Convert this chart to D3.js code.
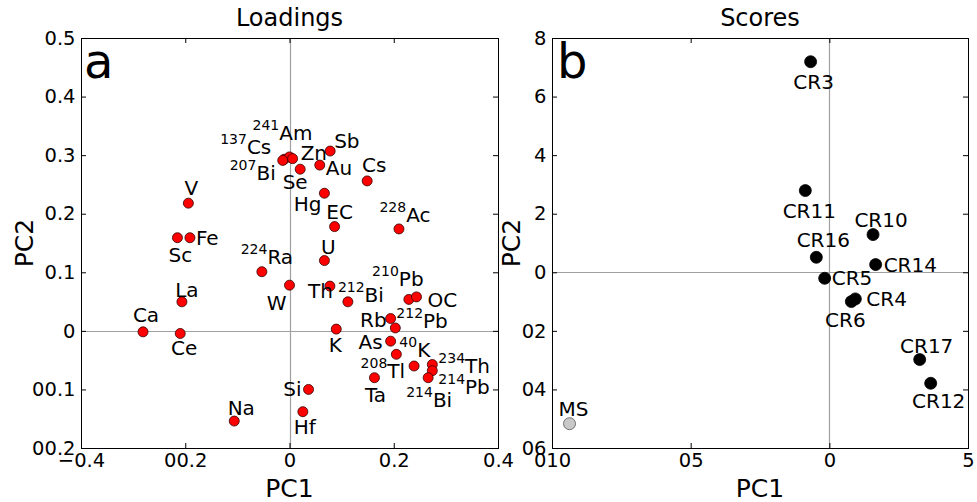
<!DOCTYPE html>
<html>
<head>
<meta charset="utf-8">
<script src="https://cdnjs.cloudflare.com/ajax/libs/d3/7.8.5/d3.min.js"></script>
<style>
    body { margin: 0; background: #fff; }
    svg text { font-family: "DejaVu Sans", sans-serif; }
</style>
</head>
<body>
<div id="chart"></div>
<script>
// ---- panel a: loadings ----
var loadNames = ["V", "Sc", "Fe", "Cs", "Am", "Bi", "Zn", "Sb", "Se", "Au", "Cs", "Hg", "EC", "Ac", "U", "Ra",
    "W", "Th", "Bi", "Pb", "OC", "Rb", "Pb", "K", "As", "K", "Tl", "Th", "Pb", "Bi", "Ta", "Si", "Hf", "Na",
    "Ca", "Ce", "La"];
var loadSup = ["", "", "", "137", "241", "207", "", "", "", "", "", "", "", "228", "", "224",
    "", "", "212", "210", "", "", "212", "", "", "40", "208", "234", "214", "214", "", "", "", "",
    "", "", ""];
var loadPC1 = [-0.194, -0.215, -0.191, -0.010, 0.000, -0.013, 0.006, 0.078, 0.0205, 0.058, 0.149, 0.067, 0.0865, 0.210, 0.067, -0.053,
    0.000, 0.0775, 0.112, 0.229, 0.2436, 0.194, 0.203, 0.0897, 0.194, 0.205, 0.239, 0.274, 0.274, 0.266, 0.163, 0.0365, 0.0256, -0.106,
    -0.281, -0.2096, -0.2064];
var loadPC2 = [0.218, 0.159, 0.159, 0.293, 0.297, 0.291, 0.294, 0.307, 0.276, 0.283, 0.256, 0.235, 0.178, 0.174, 0.120, 0.101,
    0.078, 0.0764, 0.0496, 0.0537, 0.058, 0.021, 0.005, 0.003, -0.0176, -0.040, -0.060, -0.0575, -0.068, -0.080, -0.080, -0.100, -0.138, -0.154,
    -0.0017, -0.0045, 0.0496];
// label placement next to each point: [anchor, dx, dy]
var loadLabelAt = [["middle", 3, -8], ["middle", 3, 24], ["start", 6, 7], ["end", -13, -5], ["middle", -7, -17],
    ["end", -7, 20], ["start", 8, 1], ["start", 4, -3], ["middle", -5, 20], ["start", 6, 10], ["middle", 7, -9],
    ["end", -3, 18], ["middle", 5, -8], ["middle", 6, -7], ["middle", 4, -7], ["middle", 5, -8],
    ["end", -3, 25], ["end", 3, 12], ["start", -10, 0], ["middle", -11, -13], ["start", 11, 10], ["end", -4, 8],
    ["start", 1, 0], ["middle", -1, 23], ["end", -8, 8], ["start", 3, 3], ["end", -9, 12], ["start", 6, 8],
    ["start", 6, 23], ["middle", 1, 29], ["middle", 1, 24], ["end", -7, 7], ["middle", 2, 22], ["middle", 7, -6],
    ["middle", 3, -10], ["middle", 4, 22], ["middle", 5, -5]];

var loadXTicks = [-0.4, -0.2, 0, 0.2, 0.4];
var loadXTickLabels = ["\u22120.4", "00.2", "0", "0.2", "0.4"];
var loadYTicks = [0.5, 0.4, 0.3, 0.2, 0.1, 0, -0.1, -0.2];
var loadYTickLabels = ["0.5", "0.4", "0.3", "0.2", "0.1", "0", "00.1", "00.2"];

// ---- panel b: scores ----
var scoreNames = ["CR3", "CR11", "CR10", "CR16", "CR14", "CR5", "CR4", "CR6", "CR17", "CR12", "MS"];
var scorePC1 = [-0.675, -0.866, 1.576, -0.469, 1.67, -0.168, 0.938, 0.794, 3.258, 3.655, -9.368];
var scorePC2 = [7.19, 2.79, 1.287, 0.512, 0.263, -0.205, -0.91, -1.0, -2.98, -3.79, -5.17];
var scoreLabelAt = [["middle", 3, 27], ["middle", 4, 27], ["middle", 8, -8], ["middle", 7, -10], ["start", 8, 7],
    ["start", 7, 7], ["start", 11, 7], ["middle", -6, 25], ["middle", 7, -7], ["middle", 8, 25], ["middle", 4, -8]];

var scoreXTicks = [-10, -5, 0, 5];
var scoreXTickLabels = ["010", "05", "0", "5"];
var scoreYTicks = [8, 6, 4, 2, 0, -2, -4, -6];
var scoreYTickLabels = ["8", "6", "4", "2", "0", "02", "04", "06"];


var width = 977;
var height = 502;

var svg = d3.select("#chart")
    .append("svg")
    .attr("width", width)
    .attr("height", height);

svg.append("rect")
    .attr("width", width)
    .attr("height", height)
    .attr("fill", "#fff");

function addLabel(g, x, y, anchor, sup, name, size) {
    var t = g.append("text")
        .attr("x", x)
        .attr("y", y)
        .attr("text-anchor", anchor)
        .attr("font-size", size)
        .attr("fill", "#000");
    if (sup) {
        t.append("tspan").attr("font-size", 14).attr("dy", -10).text(sup);
        t.append("tspan").attr("dy", 10).text(name);
    } else {
        t.text(name);
    }
}

function drawPanel(p) {
    var x = d3.scaleLinear().domain(p.xDomain).range([p.left, p.right]);
    var y = d3.scaleLinear().domain(p.yDomain).range([p.bottom, p.top]);
    var g = svg.append("g");

    // zero lines
    g.append("line")
        .attr("x1", Math.round(x(0)) + 0.5).attr("x2", Math.round(x(0)) + 0.5)
        .attr("y1", p.top).attr("y2", p.bottom)
        .attr("stroke", "#a0a0a0").attr("stroke-width", 1.2);
    g.append("line")
        .attr("x1", p.left).attr("x2", p.right)
        .attr("y1", Math.round(y(0)) + 0.5).attr("y2", Math.round(y(0)) + 0.5)
        .attr("stroke", "#a0a0a0").attr("stroke-width", 1.2);

    // axes, ticks pointing inwards on all four sides
    var bottom = g.append("g")
        .attr("transform", "translate(0," + p.bottom + ")")
        .call(d3.axisBottom(x).tickValues(p.xTicks)
            .tickFormat(function(d, i) { return p.xTickLabels[i]; })
            .tickSizeInner(-5).tickSizeOuter(0).tickPadding(5));
    var left = g.append("g")
        .attr("transform", "translate(" + p.left + ",0)")
        .call(d3.axisLeft(y).tickValues(p.yTicks)
            .tickFormat(function(d, i) { return p.yTickLabels[i]; })
            .tickSizeInner(-5).tickSizeOuter(0).tickPadding(5.5));
    var top = g.append("g")
        .attr("transform", "translate(0," + p.top + ")")
        .call(d3.axisTop(x).tickValues(p.xTicks).tickFormat("")
            .tickSizeInner(-5).tickSizeOuter(0));
    var right = g.append("g")
        .attr("transform", "translate(" + p.right + ",0)")
        .call(d3.axisRight(y).tickValues(p.yTicks).tickFormat("")
            .tickSizeInner(-5).tickSizeOuter(0));

    [bottom, left, top, right].forEach(function(a) {
        a.select(".domain").remove();
        a.attr("font-family", null).attr("font-size", 19.5);
        a.selectAll("line").attr("stroke", "#000");
        a.selectAll("text").attr("fill", "#000");
    });

    // frame
    g.append("rect")
        .attr("x", p.left + 0.5)
        .attr("y", p.top + 0.5)
        .attr("width", p.right - p.left)
        .attr("height", p.bottom - p.top)
        .attr("fill", "none")
        .attr("stroke", "#000")
        .attr("stroke-width", 1);

    // points
    g.selectAll("circle.pt")
        .data(p.pc1)
        .enter()
        .append("circle")
        .attr("class", "pt")
        .attr("cx", function(d) { return x(d); })
        .attr("cy", function(d, i) { return y(p.pc2[i]); })
        .attr("r", p.radius)
        .attr("fill", function(d, i) { return p.fill(i); })
        .attr("stroke", function(d, i) { return p.stroke(i); })
        .attr("stroke-width", 0.8);

    // point labels
    for (var i = 0; i < p.names.length; i++) {
        var at = p.labelAt[i];
        addLabel(g, x(p.pc1[i]) + at[1], y(p.pc2[i]) + at[2], at[0], p.sup ? p.sup[i] : "", p.names[i], 20);
    }

    // title, axis labels, panel letter
    g.append("text")
        .attr("x", (p.left + p.right) / 2).attr("y", 26)
        .attr("text-anchor", "middle").attr("font-size", 24)
        .text(p.title);
    g.append("text")
        .attr("x", (p.left + p.right) / 2).attr("y", 497)
        .attr("text-anchor", "middle").attr("font-size", 25)
        .text("PC1");
    g.append("text")
        .attr("transform", "translate(" + p.yLabelX + "," + ((p.top + p.bottom) / 2) + ") rotate(-90)")
        .attr("text-anchor", "middle").attr("font-size", 25)
        .text("PC2");
    g.append("text")
        .attr("x", p.left + p.letterDx).attr("y", 78)
        .attr("font-size", 48)
        .text(p.letter);
}

drawPanel({
    left: 81, right: 498, top: 38, bottom: 448,
    xDomain: [-0.4, 0.4], yDomain: [-0.2, 0.5],
    xTicks: loadXTicks, xTickLabels: loadXTickLabels,
    yTicks: loadYTicks, yTickLabels: loadYTickLabels,
    pc1: loadPC1, pc2: loadPC2, names: loadNames, sup: loadSup, labelAt: loadLabelAt,
    radius: 5,
    fill: function() { return "#ff0000"; },
    stroke: function() { return "#300"; },
    title: "Loadings", letter: "a", letterDx: 3, yLabelX: 33
});

drawPanel({
    left: 552, right: 968, top: 38, bottom: 448,
    xDomain: [-10, 5], yDomain: [-6, 8],
    xTicks: scoreXTicks, xTickLabels: scoreXTickLabels,
    yTicks: scoreYTicks, yTickLabels: scoreYTickLabels,
    pc1: scorePC1, pc2: scorePC2, names: scoreNames, sup: null, labelAt: scoreLabelAt,
    radius: 6,
    fill: function(i) { return scoreNames[i] == "MS" ? "#c8c8c8" : "#000"; },
    stroke: function(i) { return scoreNames[i] == "MS" ? "#555" : "#000"; },
    title: "Scores", letter: "b", letterDx: 5, yLabelX: 520
});
</script>
</body>
</html>
